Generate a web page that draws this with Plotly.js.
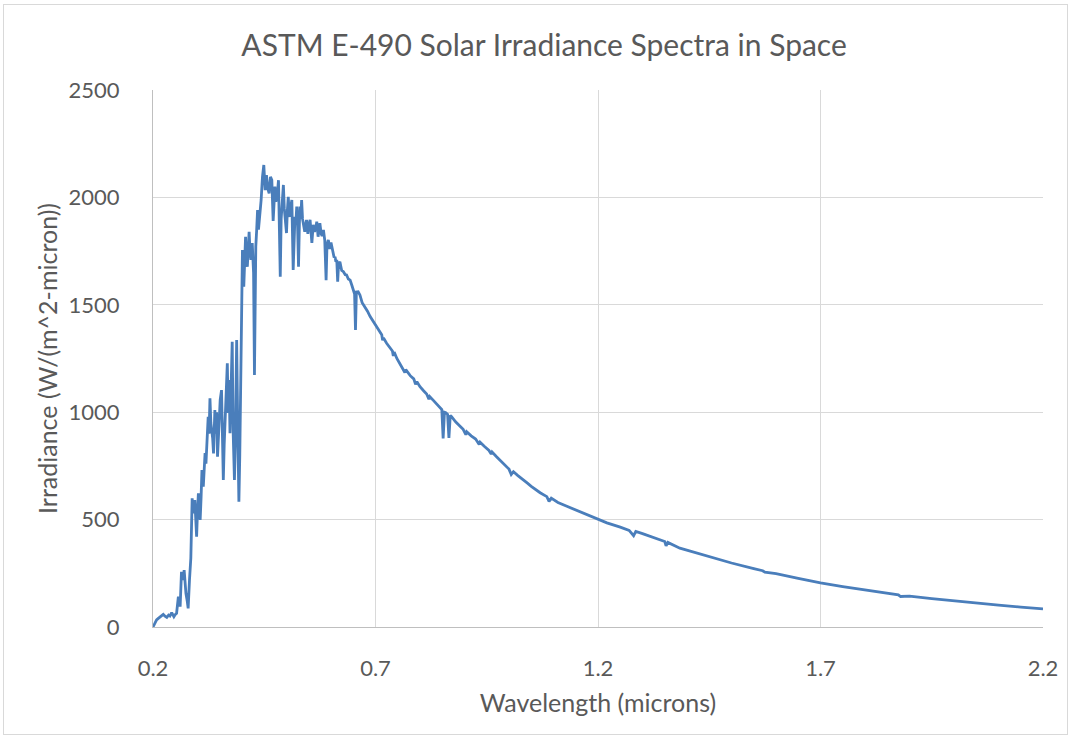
<!DOCTYPE html>
<html>
<head>
<meta charset="utf-8">
<script src="https://cdn.plot.ly/plotly-3.0.1.min.js"></script>
<style>
  html, body { margin: 0; padding: 0; background: #ffffff; }
  #wrap { position: relative; width: 1071px; height: 738px; }
  #chart { position: absolute; left: 0; top: 0; width: 1071px; height: 738px; }
  #frame { position: absolute; left: 3px; top: 4px; width: 1063px; height: 729px; border: 1px solid #d9d9d9; pointer-events: none; }
</style>
</head>
<body>
<div id="wrap"><div id="chart"></div><div id="frame"></div></div>
<script>
const chartTitle = "ASTM E-490 Solar Irradiance Spectra in Space";
const xTitle = "Wavelength (microns)";
const yTitle = "Irradiance (W/(m^2-micron))";
const xTicks = [0.2, 0.7, 1.2, 1.7, 2.2];
const yTicks = [0, 500, 1000, 1500, 2000, 2500];

const wavelength = [
 0.200,0.204,0.208,0.212,0.216,0.220,0.223,0.227,0.231,0.235,0.238,0.242,0.245,0.247,0.250,0.253,0.257,0.259,0.261,0.264,
 0.266,0.268,0.270,0.272,0.274,0.277,0.279,0.282,0.285,0.288,0.291,0.294,0.296,0.298,0.300,0.302,0.304,0.306,0.308,0.310,
 0.313,0.315,0.317,0.319,0.321,0.324,0.326,0.328,0.330,0.332,0.334,0.336,0.338,0.339,0.341,0.343,0.345,0.347,0.349,0.351,
 0.354,0.356,0.358,0.360,0.362,0.364,0.367,0.369,0.371,0.373,0.375,0.378,0.380,0.382,0.383,0.385,0.388,0.390,0.393,0.395,
 0.398,0.401,0.404,0.406,0.408,0.410,0.412,0.414,0.416,0.418,0.420,0.423,0.426,0.428,0.430,0.431,0.433,0.435,0.437,0.439,
 0.441,0.443,0.446,0.449,0.452,0.455,0.458,0.461,0.464,0.467,0.470,0.472,0.474,0.476,0.479,0.482,0.484,0.486,0.488,0.490,
 0.493,0.495,0.497,0.500,0.502,0.504,0.506,0.508,0.510,0.512,0.515,0.517,0.519,0.521,0.523,0.525,0.527,0.529,0.530,0.532,
 0.534,0.536,0.538,0.541,0.543,0.545,0.548,0.550,0.553,0.555,0.557,0.560,0.563,0.566,0.568,0.571,0.573,0.575,0.578,0.580,
 0.583,0.586,0.589,0.591,0.594,0.597,0.600,0.602,0.605,0.607,0.609,0.611,0.613,0.615,0.617,0.620,0.624,0.628,0.632,0.635,
 0.639,0.643,0.647,0.650,0.653,0.655,0.657,0.661,0.665,0.670,0.676,0.682,0.688,0.694,0.699,0.705,0.710,0.714,0.716,0.718,
 0.725,0.732,0.738,0.740,0.742,0.748,0.755,0.762,0.766,0.768,0.774,0.778,0.786,0.790,0.793,0.800,0.808,0.815,0.820,0.822,
 0.830,0.838,0.845,0.849,0.852,0.855,0.858,0.862,0.865,0.868,0.871,0.880,0.890,0.897,0.903,0.905,0.915,0.925,0.933,0.935,
 0.945,0.955,0.960,0.962,0.972,0.980,0.990,1.000,1.005,1.010,1.020,1.030,1.040,1.050,1.060,1.070,1.085,1.090,1.095,1.110,
 1.130,1.160,1.180,1.200,1.220,1.250,1.270,1.280,1.285,1.300,1.330,1.350,1.353,1.357,1.384,1.420,1.450,1.500,1.550,1.570,
 1.575,1.600,1.650,1.700,1.750,1.800,1.850,1.875,1.880,1.900,1.950,2.000,2.050,2.100,2.150,2.200
];
const irradiance = [
 0,15,33,40,48,55,59,50,45,55,51,67,55,48,58,64,141,110,95,257,
 230,219,265,210,157,120,87,219,320,599,529,591,500,420,540,622,560,498,600,731,
 653,720,810,760,880,979,900,1065,950,917,880,808,960,1010,900,1000,793,870,950,1057,
 1103,900,684,850,948,1100,1228,996,1150,902,1100,1328,917,700,684,857,1336,1000,583,800,
 1321,1755,1584,1700,1817,1720,1677,1760,1840,1750,1709,1788,1650,1173,1600,1770,1850,1941,1850,1895,
 1950,1988,2096,2151,2034,2104,2040,2019,2096,2081,1890,1990,2050,1980,2003,2080,1900,1631,1900,1988,
 2058,1950,1910,1834,1940,2003,1920,1910,1960,1988,1662,1850,1910,1880,1957,1860,1677,1880,1957,1900,
 1988,1900,1880,1840,1870,1895,1830,1870,1895,1830,1788,1872,1840,1860,1887,1817,1850,1880,1830,1820,
 1848,1800,1615,1780,1802,1760,1790,1770,1740,1720,1724,1700,1709,1608,1690,1700,1660,1654,1640,1639,
 1620,1615,1590,1569,1550,1383,1560,1561,1546,1510,1491,1470,1445,1425,1410,1385,1369,1360,1335,1345,
 1321,1300,1285,1262,1280,1250,1225,1205,1185,1198,1180,1170,1155,1130,1142,1119,1100,1085,1060,1072,
 1055,1035,1020,1012,878,1000,998,990,880,985,979,955,935,920,895,909,890,875,850,860,
 840,822,805,815,793,775,755,735,710,723,705,690,672,655,640,625,607,585,600,580,
 562,537,518,500,485,465,450,425,445,435,415,398,378,394,367,345,325,298,272,262,
 255,248,226,205,188,172,157,150,142,144,132,121,111,102,93,84
];

const textGray = "#595959";
const gridGray = "#d9d9d9";

const trace = {
  type: "scatter",
  mode: "lines",
  x: wavelength,
  y: irradiance,
  line: { color: "#4a7ebb", width: 2.8 },
  hoverinfo: "x+y",
  showlegend: false
};

const layout = {
  width: 1071,
  height: 738,
  paper_bgcolor: "#ffffff",
  plot_bgcolor: "#ffffff",
  margin: { l: 153, r: 28, t: 90, b: 111, pad: 0 },
  font: { family: "Lato, 'Open Sans', sans-serif", color: textGray, size: 22 },
  title: {
    text: chartTitle,
    x: 0.508, xref: "container", xanchor: "center",
    y: 42, yref: "container", yanchor: "middle",
    font: { family: "Lato, 'Open Sans', sans-serif", size: 30, color: textGray }
  },
  xaxis: {
    range: [0.2, 2.2],
    tickmode: "array",
    tickvals: xTicks,
    ticktext: xTicks.map(v => v.toFixed(1)),
    showgrid: true,
    gridcolor: gridGray,
    gridwidth: 1,
    zeroline: false,
    showline: true,
    linecolor: "#bfbfbf",
    linewidth: 1,
    ticks: "outside",
    ticklen: 22,
    tickcolor: "rgba(0,0,0,0)",
    tickfont: { size: 22, color: textGray },
    title: { text: xTitle, font: { size: 25, color: textGray }, standoff: 14 },
    fixedrange: true
  },
  yaxis: {
    range: [0, 2500],
    tickmode: "array",
    tickvals: yTicks,
    ticktext: yTicks.map(String),
    showgrid: true,
    gridcolor: gridGray,
    gridwidth: 1,
    zeroline: false,
    showline: true,
    linecolor: "#bfbfbf",
    linewidth: 1,
    ticks: "outside",
    ticklen: 28,
    tickcolor: "rgba(0,0,0,0)",
    tickfont: { size: 22, color: textGray },
    title: { text: yTitle, font: { size: 25, color: textGray }, standoff: 3 },
    fixedrange: true
  }
};

Plotly.newPlot("chart", [trace], layout, { displayModeBar: false, staticPlot: true });
</script>
</body>
</html>
